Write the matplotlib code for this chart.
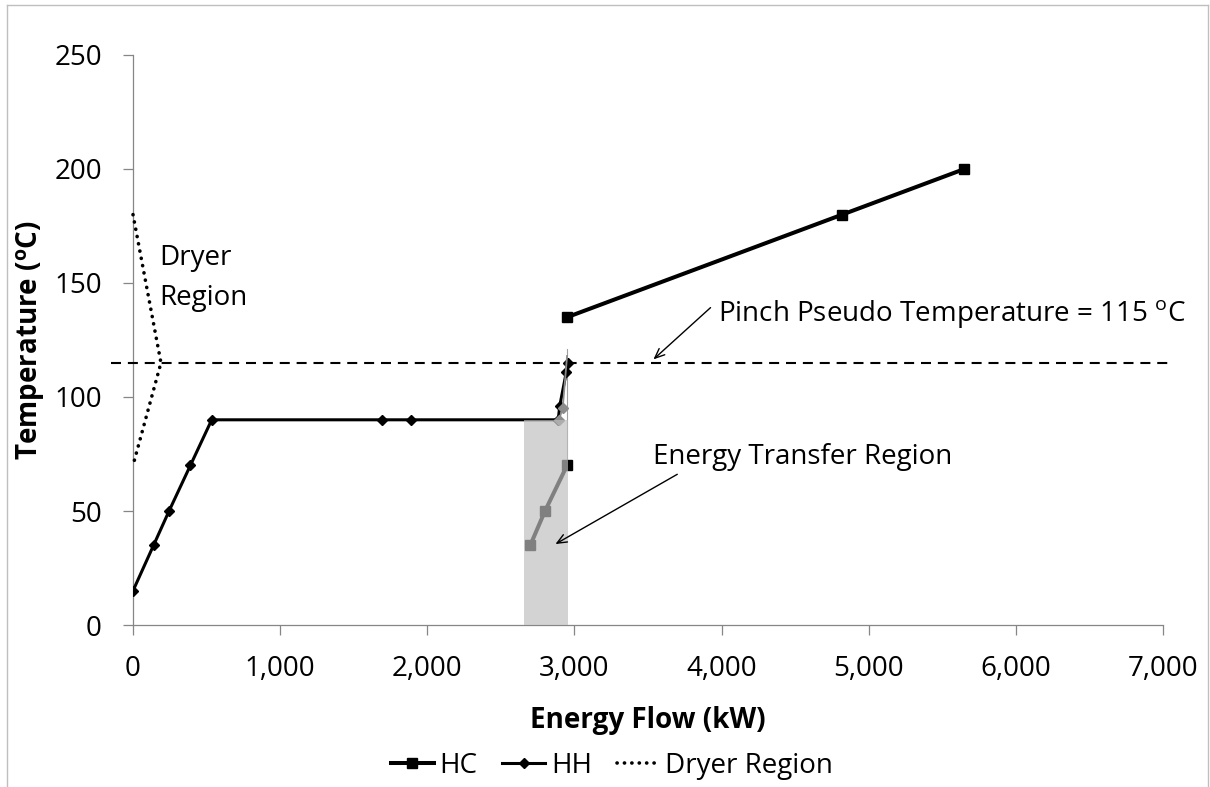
import matplotlib
matplotlib.use("Agg")
import matplotlib.pyplot as plt
from matplotlib.lines import Line2D
from matplotlib.patches import Rectangle
import numpy as np

plt.rcParams['font.family'] = ['Open Sans', 'DejaVu Sans']
plt.rcParams['mathtext.fontset'] = 'custom'
plt.rcParams['mathtext.rm'] = 'Open Sans'
plt.rcParams['mathtext.it'] = 'Open Sans:italic'
plt.rcParams['mathtext.bf'] = 'Open Sans:bold'

# hot composite curve (gap between the sensible and the upper part)
hc_energy = [2700, 2800, 2950, np.nan, 2950, 4820, 5650]
hc_temp = [35, 50, 70, np.nan, 135, 180, 200]

# heating curve of the process
hh_energy = [0, 140, 245, 390, 535, 1690, 1890, 2890, 2900, 2945, 2955]
hh_temp = [15, 35, 50, 70, 90, 90, 90, 90, 96, 111, 115]

# shifted end of the heating curve
hh_shift_energy = [2895, 2920, 2950]
hh_shift_temp = [90, 95, 118]
hc_link_energy = [2950, 2950]
hc_link_temp = [70, 121]

# dryer region boundary
dryer_energy = [0, 190, 0]
dryer_temp = [180, 115, 70]

pinch_temp = 115
pinch_span = [-150, 7050]

# energy transfer region (shaded box)
etr_energy = [2660, 2955]
etr_temp = [0, 90]

x_ticks = [0, 1000, 2000, 3000, 4000, 5000, 6000, 7000]
x_labels = ['0', '1,000', '2,000', '3,000', '4,000', '5,000', '6,000', '7,000']
y_ticks = [0, 50, 100, 150, 200, 250]

fs = 20
axis_grey = '#868686'

fig = plt.figure(figsize=(12.10, 7.87), dpi=100)
ax = fig.add_axes([133 / 1210, 1 - 625 / 787, 1030 / 1210, 570 / 787])

ax.plot(hc_energy, hc_temp, color='black', lw=2.9, marker='s', ms=7.5,
        label='HC', zorder=3)
ax.plot(hh_energy, hh_temp, color='black', lw=2.2, marker='D', ms=5.5,
        label='HH', zorder=3)
ax.plot(hh_shift_energy, hh_shift_temp, color='#8c8c8c', lw=1.3, marker='D',
        ms=5, markevery=[0, 1], zorder=4)
ax.plot(hc_link_energy, hc_link_temp, color='#a0a0a0', lw=0.8, zorder=2)
ax.plot(dryer_energy, dryer_temp, color='black', lw=2.6, ls=(0, (0.05, 2.0)),
        dash_capstyle='round', label='Dryer Region', zorder=3, clip_on=False)

ax.plot(pinch_span, [pinch_temp, pinch_temp], color='black', lw=1.5,
        ls=(0, (4.8, 3.3)), zorder=3, clip_on=False)

ax.add_patch(Rectangle((etr_energy[0], etr_temp[0]),
                       etr_energy[1] - etr_energy[0], etr_temp[1] - etr_temp[0],
                       facecolor='#bebebe', edgecolor='none', alpha=0.68,
                       zorder=5))

ax.annotate('', xy=(3537, 116.5), xytext=(3925, 139.2),
            arrowprops=dict(arrowstyle='->,head_length=0.7,head_width=0.3',
                            color='black', lw=1, shrinkA=0, shrinkB=0))
ax.text(3973, 133.2, 'Pinch Pseudo Temperature = 115 $^{\\mathrm{o}}$C',
        fontsize=fs, va='baseline', ha='left')

ax.annotate('', xy=(2871, 35.5), xytext=(3699, 66.1),
            arrowprops=dict(arrowstyle='->,head_length=0.7,head_width=0.3',
                            color='black', lw=1, shrinkA=0, shrinkB=0),
            zorder=6)
ax.text(3531, 70.5, 'Energy Transfer Region', fontsize=fs, va='baseline',
        ha='left')

ax.text(179, 158, 'Dryer', fontsize=fs, va='baseline', ha='left')
ax.text(179, 140.5, 'Region', fontsize=fs, va='baseline', ha='left')

ax.set_xlim(0, 7000)
ax.set_ylim(0, 250)
ax.set_xticks(x_ticks)
ax.set_xticklabels(x_labels)
ax.set_yticks(y_ticks)
ax.tick_params(axis='both', labelsize=fs, color=axis_grey, length=7.5,
               width=0.9, direction='out')
ax.tick_params(axis='x', pad=14)
ax.tick_params(axis='y', pad=15)

for side in ['top', 'right']:
    ax.spines[side].set_visible(False)
for side in ['left', 'bottom']:
    ax.spines[side].set_color(axis_grey)
    ax.spines[side].set_linewidth(0.9)

ax.set_xlabel('Energy Flow (kW)', fontsize=fs, fontweight='bold')
ax.set_ylabel('Temperature ($^{\\mathbf{o}}$C)', fontsize=fs,
              fontweight='bold')
ax.xaxis.set_label_coords(0.5, -0.167)
ax.xaxis.label.set_va('center')
ax.yaxis.set_label_coords(-0.099, 0.5)
ax.yaxis.label.set_va('center')

handles, labels = ax.get_legend_handles_labels()
fig.legend(handles, labels, loc='center', bbox_to_anchor=(612 / 1210, 0.027),
           ncol=3, frameon=False, fontsize=fs, handlelength=1.55,
           handletextpad=0.2, columnspacing=0.9, borderaxespad=0)

# outer chart frame
frame_kw = dict(color='#bfbfbf', lw=1, transform=fig.transFigure)
fig.add_artist(Line2D([7 / 1210, 7 / 1210], [-0.1, 1 - 5 / 787], **frame_kw))
fig.add_artist(Line2D([7 / 1210, 1208 / 1210], [1 - 5 / 787, 1 - 5 / 787],
                      **frame_kw))
fig.add_artist(Line2D([1208 / 1210, 1208 / 1210], [-0.1, 1 - 5 / 787],
                      **frame_kw))

fig.savefig('out.png', dpi=100)
